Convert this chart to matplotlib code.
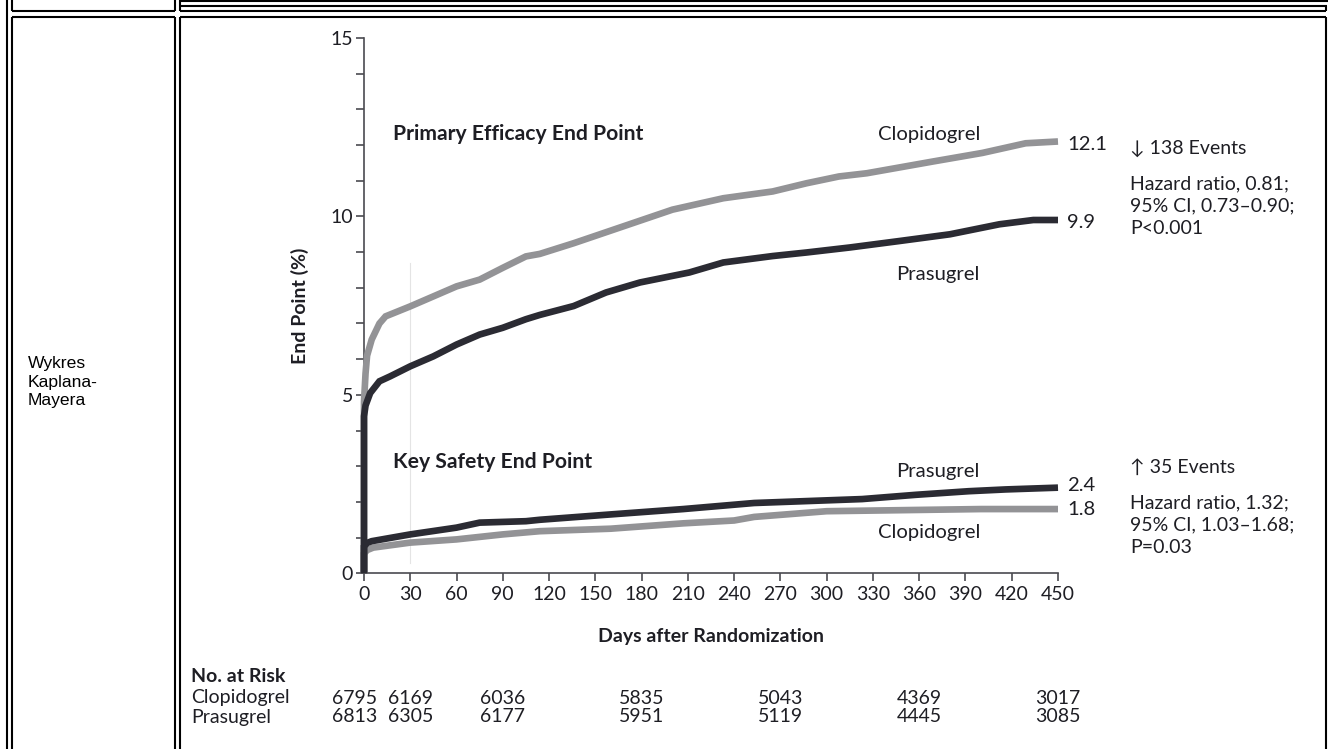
import numpy as np
import matplotlib.pyplot as plt
from matplotlib.transforms import blended_transform_factory

# ---- data ----
clop_eff_days = [0, 0, 1, 2, 5, 10, 14, 30, 45, 60, 75, 90, 105, 114, 136, 168, 200, 233, 265, 287, 308, 326, 369, 401, 429, 450]
clop_eff = [0, 4.8, 5.6, 6.1, 6.55, 7.0, 7.2, 7.48, 7.76, 8.04, 8.23, 8.56, 8.88, 8.95, 9.25, 9.72, 10.19, 10.51, 10.70, 10.93, 11.12, 11.21, 11.54, 11.78, 12.05, 12.1]
pras_eff_days = [0, 0, 1, 4, 10, 17, 30, 45, 60, 75, 90, 105, 114, 136, 157, 179, 211, 233, 265, 287, 315, 347, 380, 412, 434, 450]
pras_eff = [0, 4.4, 4.7, 5.05, 5.38, 5.52, 5.8, 6.08, 6.41, 6.69, 6.88, 7.12, 7.24, 7.49, 7.87, 8.15, 8.43, 8.71, 8.89, 8.99, 9.13, 9.31, 9.50, 9.78, 9.9, 9.9]
pras_saf_days = [0, 0, 2, 5, 30, 60, 75, 105, 114, 160, 207, 253, 323, 358, 392, 416, 450]
pras_saf = [0, 0.75, 0.85, 0.9, 1.09, 1.28, 1.42, 1.46, 1.5, 1.65, 1.8, 1.97, 2.08, 2.2, 2.3, 2.35, 2.4]
clop_saf_days = [0, 0, 2, 6, 30, 60, 90, 114, 160, 207, 240, 253, 300, 350, 400, 450]
clop_saf = [0, 0.55, 0.65, 0.72, 0.86, 0.95, 1.09, 1.18, 1.25, 1.4, 1.48, 1.58, 1.74, 1.77, 1.8, 1.8]

risk_days = [0, 30, 90, 180, 270, 360, 450]
risk_clop = [6795, 6169, 6036, 5835, 5043, 4369, 3017]
risk_pras = [6813, 6305, 6177, 5951, 5119, 4445, 3085]
risk_nudge = [-9, 0, 0, 0, 0, 0, 0]   # px shift of the first column

xticks = list(range(0, 451, 30))
yticks = [0, 5, 10, 15]

W, H = 1328, 749
GRAY = '#939396'
DARK = '#2b2b33'
TXT = '#1e1e24'
FONT = 'Lato'

fig = plt.figure(figsize=(W / 100, H / 100), dpi=100)

# overlay in pixel coordinates for the table frame
bg = fig.add_axes([0, 0, 1, 1])
bg.set_xlim(0, W)
bg.set_ylim(H, 0)
bg.axis('off')

def hline(y, x0, x1):
    bg.plot([x0, x1], [y, y], color='black', lw=1.5, solid_capstyle='butt')

def vline(x, y0, y1):
    bg.plot([x, x], [y0, y1], color='black', lw=1.5, solid_capstyle='butt')

hline(0.8, 179, W)
hline(5.5, 179, 1326.5)
hline(10.8, 12, 174.5)
hline(10.8, 179.5, 1325.5)
hline(16.5, 12, 174.5)
hline(16.5, 179.5, 1325.5)
vline(7, 0, H)
vline(12, 0, 10.8)
vline(12, 16.5, H)
vline(174.5, 0, 10.8)
vline(174.5, 16.5, H)
vline(179.5, 0, 10.8)
vline(179.5, 16.5, H)
vline(1325.5, 5.5, 10.8)
vline(1325.5, 16.5, H)

bg.text(28, 382, 'Wykres\nKaplana-\nMayera', fontsize=12.6, family='Liberation Sans',
        ha='left', va='center', linespacing=1.32, color='black')

# ---- Kaplan-Meier axes ----
ax = fig.add_axes([364 / W, 1 - 573.3 / H, 694 / W, 535.3 / H])
ax.set_xlim(0, 450)
ax.set_ylim(0, 15)
ax.patch.set_alpha(0)

ax.plot([30, 30], [0.3, 8.7], color='#e4e4e4', lw=0.8, zorder=1)

for d, v, c in [(clop_eff_days, clop_eff, GRAY), (clop_saf_days, clop_saf, GRAY),
                (pras_eff_days, pras_eff, DARK), (pras_saf_days, pras_saf, DARK)]:
    ax.plot(d, v, color=c, lw=4.8, solid_capstyle='butt', solid_joinstyle='miter',
            clip_on=False, zorder=3)

for s in ['top', 'right']:
    ax.spines[s].set_visible(False)
for s in ['left', 'bottom']:
    ax.spines[s].set_color('#4a4a50')
    ax.spines[s].set_linewidth(1.2)

ax.set_xticks(xticks)
ax.set_yticks(yticks)
ax.set_yticks(range(0, 16), minor=True)
ax.tick_params(axis='both', which='both', direction='out', color='#4a4a50', width=1.2,
               labelsize=14, labelcolor=TXT)
ax.tick_params(axis='y', which='major', length=6, pad=2)
ax.tick_params(axis='y', which='minor', length=5.5)
ax.tick_params(axis='x', which='major', length=6, pad=3)
for lab in ax.get_xticklabels() + ax.get_yticklabels():
    lab.set_family(FONT)

ax.set_ylabel('End Point (%)', fontsize=14, fontweight='bold', family=FONT, color=TXT, labelpad=15)
ax.set_xlabel('Days after Randomization', fontsize=14, fontweight='bold', family=FONT, color=TXT, labelpad=18)

def t(x, y, s, bold=False, size=14.6, **kw):
    ax.text(x, y, s, fontsize=size, family=[FONT, 'DejaVu Sans'], color=TXT,
            fontweight='bold' if bold else 'normal', ha='left', va='center', clip_on=False, **kw)

t(19, 12.32, 'Primary Efficacy End Point', bold=True, size=15.2)
t(333, 12.3, 'Clopidogrel')
t(456, 12.02, '12.1')
t(456, 9.83, '9.9')
t(345, 8.38, 'Prasugrel')
t(497, 11.92, '↓ 138 Events', size=14)
t(497, 10.92, 'Hazard ratio, 0.81;', size=14)
t(497, 10.3, '95% CI, 0.73–0.90;', size=14)
t(497, 9.66, 'P<0.001', size=14)

t(19, 3.12, 'Key Safety End Point', bold=True, size=15.2)
t(345, 2.86, 'Prasugrel')
t(456, 2.45, '2.4')
t(456, 1.78, '1.8')
t(333, 1.15, 'Clopidogrel')
t(497, 2.98, '↑ 35 Events', size=14)
t(497, 1.98, 'Hazard ratio, 1.32;', size=14)
t(497, 1.36, '95% CI, 1.03–1.68;', size=14)
t(497, 0.72, 'P=0.03', size=14)

# ---- number at risk ----
bg.text(191, 677, 'No. at Risk', fontsize=14, fontweight='bold', family=FONT, color=TXT, ha='left', va='center')
bg.text(191, 698, 'Clopidogrel', fontsize=14, family=FONT, color=TXT, ha='left', va='center')
bg.text(191, 717, 'Prasugrel', fontsize=14, family=FONT, color=TXT, ha='left', va='center')
tr = blended_transform_factory(ax.transData, bg.transData)
for d, c, p, n in zip(risk_days, risk_clop, risk_pras, risk_nudge):
    ax.text(d + n / 1.5422, 698, str(c), transform=tr, fontsize=14, family=FONT, color=TXT,
            ha='center', va='center', clip_on=False)
    ax.text(d + n / 1.5422, 717, str(p), transform=tr, fontsize=14, family=FONT, color=TXT,
            ha='center', va='center', clip_on=False)

fig.savefig('out.png', dpi=100)
